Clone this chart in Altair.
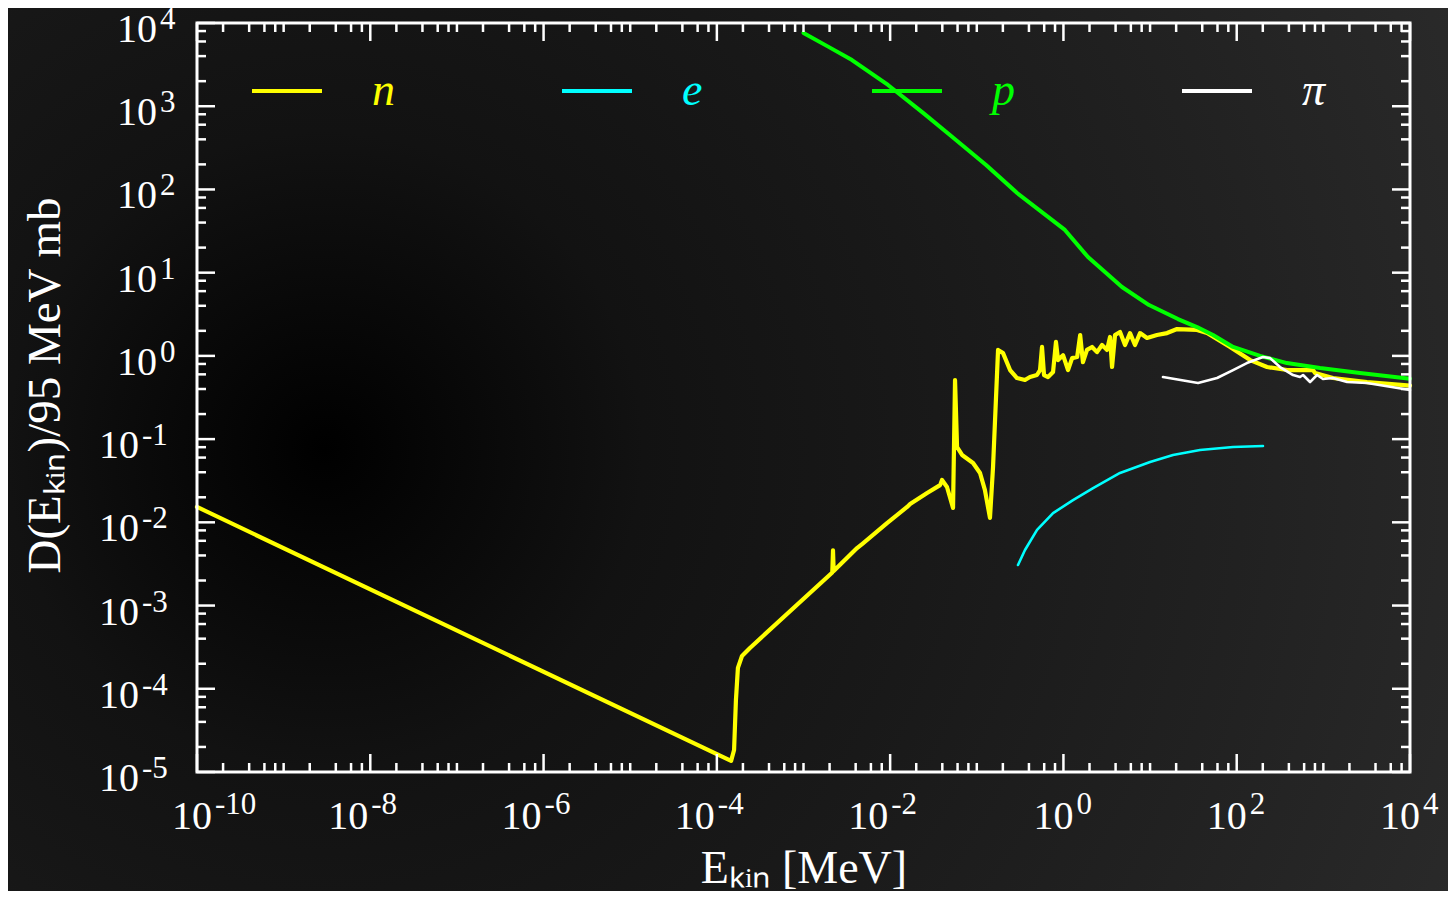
import altair as alt
import pandas as pd

# ---------------- data ----------------
SERIES = ["n", "e", "p", "π"]
COLORS = ["#ffff00", "#00ffff", "#00ff00", "#ffffff"]
WIDTHS = [4.2, 2.6, 4.0, 2.6]

N_X = [1e-10, 1.46e-4, 1.58e-4, 1.66e-4, 1.75e-4, 1.95e-4, 2.41e-4, 2.15e-3, 2.19e-3, 2.23e-3,
       4.15e-3, 4.86e-3, 9.2e-3, 0.0157, 0.017, 0.0267, 0.0377, 0.0397, 0.0453, 0.049,
       0.0532, 0.0561, 0.0592, 0.0676, 0.0906, 0.109, 0.124, 0.142, 0.154, 0.176,
       0.201, 0.242, 0.291, 0.36, 0.411, 0.495, 0.537, 0.566, 0.597, 0.664,
       0.759, 0.82, 0.867, 0.99, 1.13, 1.26, 1.44, 1.56, 1.68, 1.87,
       2.14, 2.44, 2.79, 3.19, 3.45, 3.64, 3.94, 4.5, 5.14, 5.87,
       6.7, 7.66, 9.22, 12.0, 15.7, 20.5, 34.8, 45.4, 83.7, 143,
       224, 381, 760, 802, 1290, 3190, 1e4]
N_Y = [0.0153, 1.36e-5, 1.84e-5, 7.3e-5, 1.78e-4, 2.48e-4, 3.09e-4, 2.5e-3, 4.6e-3, 2.6e-3,
       4.9e-3, 5.6e-3, 9.8e-3, 0.0153, 0.0166, 0.0225, 0.028, 0.0323, 0.0266, 0.0201,
       0.0149, 0.513, 0.0804, 0.0645, 0.0517, 0.0392, 0.0245, 0.0113, 0.0462, 1.18,
       1.08, 0.676, 0.542, 0.513, 0.557, 0.589, 0.676, 1.28, 0.589, 0.557,
       0.64, 1.47, 0.89, 1.02, 0.676, 0.94, 0.97, 1.78, 0.84, 1.18,
       1.28, 1.11, 1.35, 1.18, 1.69, 0.735, 1.78, 1.94, 1.35, 1.88,
       1.35, 1.88, 1.64, 1.78, 1.88, 2.1, 2.05, 1.88, 1.28, 0.89,
       0.735, 0.676, 0.676, 0.622, 0.542, 0.485, 0.44]

E_X = [0.299, 0.36, 0.496, 0.759, 1.29, 2.2, 4.5, 10.0, 18.4, 37.7, 90.8, 201]
E_Y = [3.07e-3, 4.65e-3, 8.1e-3, 0.0129, 0.0185, 0.0258, 0.0392, 0.0531, 0.0644, 0.074, 0.0804, 0.0826]

P_X = [1e-3, 1.97e-3, 3.63e-3, 9.44e-3, 0.024, 0.049, 0.128, 0.292, 1.04, 1.92,
       4.74, 9.73, 21.0, 34.8, 53.3, 90.8, 186, 380, 916, 2650, 1e4]
P_Y = [7600, 5130, 3590, 1800, 832, 451, 197, 90.6, 32.6, 15.4,
       6.73, 4.08, 2.77, 2.22, 1.78, 1.28, 1.0, 0.82, 0.714, 0.622, 0.53]

PI_X = [14.1, 35.8, 59.3, 90.8, 131, 201, 243, 316, 447, 538, 583, 702, 845, 991, 1290, 1880, 3190, 1e4]
PI_Y = [0.557, 0.472, 0.542, 0.676, 0.82, 0.97, 0.94, 0.735, 0.589, 0.557, 0.589, 0.485, 0.589, 0.527,
        0.542, 0.485, 0.472, 0.389]

# tick values and their labels ("10" with a superscript exponent)
X_TICK_VALUES = [1e-10, 1e-8, 1e-6, 1e-4, 1e-2, 1e0, 1e2, 1e4]
X_TICK_EXP = ["-10", "-8", "-6", "-4", "-2", "0", "2", "4"]
Y_TICK_VALUES = [1e-5, 1e-4, 1e-3, 1e-2, 1e-1, 1e0, 1e1, 1e2, 1e3, 1e4]
Y_TICK_EXP = ["-5", "-4", "-3", "-2", "-1", "0", "1", "2", "3", "4"]
X_MINOR = [float(f"{m}e{k}") for k in range(-10, 4) for m in (2, 4, 6, 8)] + \
          [float(f"1e{k}") for k in range(-9, 4, 2)]
Y_MINOR = [float(f"{m}e{k}") for k in range(-5, 4) for m in (2, 4, 6, 8)]

X_TITLE = "Eₖᵢₙ [MeV]"
Y_TITLE = "D(Eₖᵢₙ)/95 MeV mb"

# ---------------- layout ----------------
W, H = 1213, 749
PAD = {"left": 189, "top": 15, "right": 38, "bottom": 119}
FONT = "Liberation Serif"
MAJ, MIN = 18, 9
BASE_FS, EXP_FS = 40, 31

for a, b in [(N_X, N_Y), (E_X, E_Y), (P_X, P_Y), (PI_X, PI_Y)]:
    assert len(a) == len(b)

DATA = {"n": (N_X, N_Y), "e": (E_X, E_Y), "p": (P_X, P_Y), "π": (PI_X, PI_Y)}

xscale = alt.Scale(type="log", domain=[1e-10, 1e4], nice=False)
yscale = alt.Scale(type="log", domain=[1e-5, 1e4], nice=False)

xaxis = alt.Axis(values=X_TICK_VALUES, labels=False,
                 domain=False, ticks=False, tickSize=0, grid=False, zindex=2,
                 title=X_TITLE, titleFont=FONT, titleFontSize=46, titleFontWeight="normal",
                 titleColor="white", titleX=W / 2, titleY=96, titleAlign="center",
                 titleBaseline="middle")
yaxis = alt.Axis(values=Y_TICK_VALUES, labels=False,
                 domain=False, ticks=False, tickSize=0, grid=False, zindex=2,
                 title=Y_TITLE, titleFont=FONT, titleFontSize=47, titleFontWeight="normal",
                 titleColor="white", titleX=-152, titleY=362, titleAngle=270,
                 titleAlign="center", titleBaseline="middle")

X = alt.X("x:Q", scale=xscale, axis=xaxis)
Y = alt.Y("y:Q", scale=yscale, axis=yaxis)

# background radial gradient
bg = alt.Chart(pd.DataFrame({"k": [0]})).mark_rect(
    fill=alt.Gradient(
        gradient="radial",
        stops=[alt.GradientStop(color="#000000", offset=0),
               alt.GradientStop(color="#121212", offset=0.26),
               alt.GradientStop(color="#191919", offset=0.5),
               alt.GradientStop(color="#212121", offset=0.75),
               alt.GradientStop(color="#2a2a2a", offset=1)],
        x1=0.22, y1=0.5, x2=0.22, y2=0.5, r1=0, r2=0.85)
).encode(x=alt.value(-PAD["left"]), x2=alt.value(W + PAD["right"]),
         y=alt.value(-PAD["top"]), y2=alt.value(H + PAD["bottom"]))

label_color = " : ".join(f"datum.label == '{s}' ? '{c}'" for s, c in zip(SERIES[:-1], COLORS[:-1]))
label_color += f" : '{COLORS[-1]}'"

legend = alt.Legend(orient="none", legendX=53, legendY=31,
                    direction="horizontal", columns=4, title=None,
                    symbolType="stroke", symbolSize=4900,
                    symbolStrokeWidth=4, labelFont=FONT,
                    labelFontStyle="italic", labelFontSize=46,
                    labelOffset=48, columnPadding=158, gridAlign="all",
                    padding=0, zindex=3, labelColor={"expr": label_color})
color = alt.Color("s:N", scale=alt.Scale(domain=SERIES, range=COLORS), legend=legend)

line_layers = []
for s, w in zip(SERIES, WIDTHS):
    xs, ys = DATA[s]
    d = pd.DataFrame({"x": xs, "y": ys, "s": s, "i": range(len(xs))})
    line_layers.append(
        alt.Chart(d).mark_line(strokeWidth=w, strokeJoin="round", strokeCap="round").encode(
            x=X, y=Y, color=color, order=alt.Order("i:Q")))


def xticks(vals, length, bottom):
    y0, y1 = (H, H - length) if bottom else (0, length)
    return alt.Chart(pd.DataFrame({"x": vals})).mark_rule(color="white", strokeWidth=2.5).encode(
        x=X, y=alt.value(y0), y2=alt.value(y1))


def yticks(vals, length, left):
    x0, x1 = (0, length) if left else (W, W - length)
    return alt.Chart(pd.DataFrame({"y": vals})).mark_rule(color="white", strokeWidth=2.5).encode(
        y=Y, x=alt.value(x0), x2=alt.value(x1))


ticks = [xticks(X_TICK_VALUES, MAJ, True), xticks(X_MINOR, MIN, True),
         xticks(X_TICK_VALUES, MAJ, False), xticks(X_MINOR, MIN, False),
         yticks(Y_TICK_VALUES, MAJ, True), yticks(Y_MINOR, MIN, True),
         yticks(Y_TICK_VALUES, MAJ, False), yticks(Y_MINOR, MIN, False)]


# tick labels: "10" plus a raised, smaller exponent
def xlabels(sel, shift):
    d = pd.DataFrame({"x": [X_TICK_VALUES[i] for i in sel],
                      "e": [X_TICK_EXP[i] for i in sel], "b": "10"})
    base = alt.Chart(d).mark_text(align="right", baseline="alphabetic", dx=shift, font=FONT,
                                  fontSize=BASE_FS, color="white").encode(
        x=X, y=alt.value(H + 57), text="b:N")
    exp = alt.Chart(d).mark_text(align="left", baseline="alphabetic", dx=shift + 3, font=FONT,
                                 fontSize=EXP_FS, color="white").encode(
        x=X, y=alt.value(H + 42), text="e:N")
    return [base, exp]


def ylabels(sel, anchor):
    d = pd.DataFrame({"y": [Y_TICK_VALUES[i] for i in sel],
                      "e": [Y_TICK_EXP[i] for i in sel], "b": "10"})
    base = alt.Chart(d).mark_text(align="right", baseline="alphabetic", dy=19, font=FONT,
                                  fontSize=BASE_FS, color="white").encode(
        y=Y, x=alt.value(anchor), text="b:N")
    exp = alt.Chart(d).mark_text(align="left", baseline="alphabetic", dy=6, dx=3, font=FONT,
                                 fontSize=EXP_FS, color="white").encode(
        y=Y, x=alt.value(anchor), text="e:N")
    return [base, exp]


labels = (xlabels([0], 15) + xlabels([1, 2, 3, 4], -2) + xlabels([5, 6, 7], 10)
          + ylabels([0, 1, 2, 3, 4], -58) + ylabels([5, 6, 7, 8, 9], -40))

frame = alt.Chart(pd.DataFrame({"k": [0]})).mark_rect(
    fill=None, stroke="white", strokeWidth=3
).encode(x=alt.value(0), x2=alt.value(W), y=alt.value(0), y2=alt.value(H))

chart = alt.layer(bg, *line_layers, *ticks, *labels, frame).properties(
    width=W, height=H,
    autosize=alt.AutoSizeParams(type="none"),
    padding=PAD,
    background="#141414",
).configure_view(strokeWidth=0)

chart.save("out.html", embed_options={"renderer": "svg", "actions": False})
